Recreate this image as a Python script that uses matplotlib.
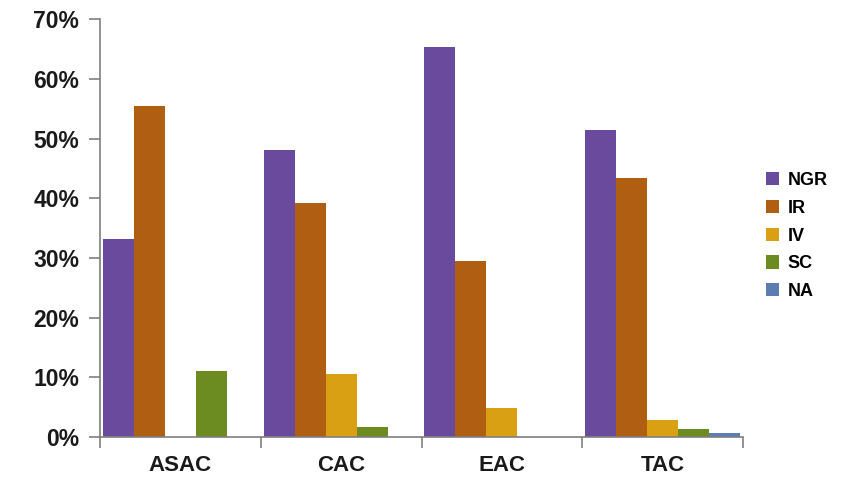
import numpy as np
import matplotlib.pyplot as plt
from matplotlib.ticker import FuncFormatter

# groups and shares (%)
groups = ["ASAC", "CAC", "EAC", "TAC"]
series = ["NGR", "IR", "IV", "SC", "NA"]
ngr = [33.2, 48.1, 65.3, 51.4]
ir = [55.4, 39.2, 29.5, 43.4]
iv = [0.0, 10.6, 4.9, 2.9]
sc = [11.1, 1.7, 0.0, 1.4]
na = [0.0, 0.0, 0.0, 0.7]
colors = ["#6A4A9C", "#B05E12", "#D8A012", "#6C8C22", "#5B7DB1"]

plt.rcParams['font.family'] = ['Liberation Sans', 'DejaVu Sans']

fig = plt.figure(figsize=(8.63, 4.79), dpi=100)
ax = fig.add_axes([0.1159, 0.0877, 0.861 - 0.1159, 0.960 - 0.0877])

bw = 0.193
x = np.arange(len(groups))
for k, (name, vals) in enumerate(zip(series, [ngr, ir, iv, sc, na])):
    ax.bar(x + 0.5 + (k - 2) * bw, vals, width=bw, color=colors[k],
           label=name, linewidth=0)

ax.set_xlim(0, len(groups))
ax.set_ylim(0, 70)
ax.set_yticks(range(0, 71, 10))
ax.yaxis.set_major_formatter(FuncFormatter(lambda v, p: "%d%%" % v))

ax.set_xticks(range(len(groups) + 1))
ax.set_xticklabels([])
ax.set_xticks(x + 0.5, minor=True)
ax.set_xticklabels(groups, minor=True)

for s in ["top", "right"]:
    ax.spines[s].set_visible(False)
for s in ["left", "bottom"]:
    ax.spines[s].set_color("#7f7f7f")
    ax.spines[s].set_linewidth(1.2)

ax.tick_params(axis="y", direction="out", length=8, width=1.2, color="#7f7f7f",
               labelsize=16.5, pad=7)
ax.tick_params(axis="x", which="major", direction="out", length=8, width=1.2,
               color="#7f7f7f")
ax.tick_params(axis="x", which="minor", length=0, labelsize=16, pad=13)
for lab in ax.get_yticklabels() + ax.get_xticklabels(minor=True):
    lab.set_fontweight("bold")
    lab.set_color("#1a1a1a")

leg = ax.legend(loc="center left", bbox_to_anchor=(1.01, 0.481), frameon=False,
                prop={"weight": "bold", "size": 13}, handlelength=0.75,
                handleheight=0.75, handletextpad=0.45, labelspacing=0.6)

fig.savefig("out.png", dpi=100)
